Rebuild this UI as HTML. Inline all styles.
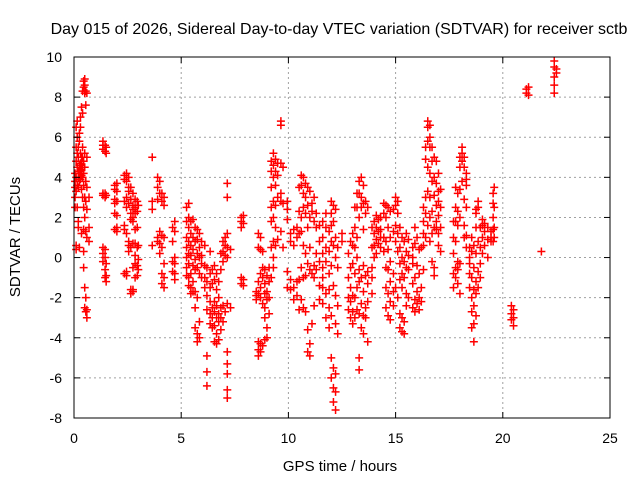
<!DOCTYPE html>
<html><head><meta charset="utf-8"><style>
body{margin:0;background:#fff;}
svg{display:block;font-family:"Liberation Sans",sans-serif;}
</style></head><body>
<svg id="chart" width="640" height="480">
<text x="339" y="34" font-size="16" text-anchor="middle">Day 015 of 2026, Sidereal Day-to-day VTEC variation (SDTVAR) for receiver sctb</text>
<g id="grid"></g>
<g id="marks"></g>
<rect x="74" y="57" width="536" height="361" fill="none" stroke="#000" stroke-width="1"/>
<g id="ticks"></g>
<text x="340" y="471" font-size="15" text-anchor="middle">GPS time / hours</text>
<text transform="translate(20,237) rotate(-90)" font-size="15" text-anchor="middle">SDTVAR / TECUs</text>
</svg>
<script>
const xTicks=[0,5,10,15,20,25];
const yTicks=[-8,-6,-4,-2,0,2,4,6,8,10];
const hours=[0.05,0.1,0.15,0.2,0.25,0.3,0.35,0.4,0.45,0.5,0.55,0.6,0.7,1.35,1.45,1.5,1.9,2.0,2.35,2.45,2.55,2.65,2.75,2.85,2.95,3.0,3.65,3.9,4.0,4.1,4.2,4.6,4.7,5.25,5.35,5.45,5.55,5.65,5.75,5.85,5.95,6.1,6.2,6.35,6.45,6.55,6.65,6.75,6.85,6.95,7.05,7.15,7.3,7.8,7.9,8.5,8.6,8.7,8.8,8.9,9.0,9.1,9.2,9.3,9.4,9.5,9.65,9.75,9.95,10.1,10.25,10.4,10.5,10.6,10.7,10.8,10.9,11.0,11.1,11.2,11.3,11.45,11.6,11.75,11.9,12.0,12.1,12.2,12.3,12.5,12.8,12.9,13.0,13.1,13.2,13.3,13.4,13.5,13.6,13.7,13.9,14.0,14.1,14.2,14.3,14.45,14.55,14.65,14.75,14.9,15.0,15.1,15.2,15.3,15.4,15.5,15.6,15.8,15.9,16.0,16.1,16.2,16.3,16.4,16.5,16.6,16.7,16.8,16.9,17.0,17.1,17.7,17.8,17.9,18.0,18.1,18.2,18.3,18.45,18.55,18.65,18.75,18.85,18.95,19.05,19.15,19.3,19.45,19.55,19.6,20.4,20.5,21.1,21.2,21.8,22.4,22.5];
const valueGroups=[
[3.5,3.0,2.5,3.8,4.2],[6.5,5.5,4.8,4.0,3.3,0.6,0.4],[6.8,6.0,5.2,4.5,3.6,2.5],[5.5,5.0,4.3,4.0,3.5,1.8,1.5],[6.2,5.8,4.6,4.2,3.8,0.5],[7.0,6.5,5.2,4.7,4.3,3.9],[7.5,5.0,4.6,4.4,4.1,3.4,1.2],[8.3,7.2,5.5,5.0,4.5,4.0,3.0],[8.8,8.5,4.8,4.2,3.6,2.5,1.4,0.3,-0.5],[8.9,8.6,8.2,5.2,4.5,3.0,2.0,-1.5,-2.5],[8.3,7.6,3.8,2.8,1.3,-2.0,-2.7],[8.2,5.0,3.5,2.4,1.0,-2.6,-3.0],[3.0,1.5,0.8],
[5.8,5.6,5.4,3.2,3.1,0.5,0.2,-0.2],[5.6,5.3,3.2,3.0,0.4,0.0,-0.6,-1.0],[5.5,5.2,3.1,-0.3,-0.9,-1.2],[3.6,3.4,2.9,2.7,2.2,1.4],[3.7,3.3,2.8,2.1,1.5,1.3],[4.1,3.9,2.8,1.6,1.4,-0.8],[4.2,3.8,3.0,2.5,1.2,-0.9,-0.7],[4.0,3.5,3.3,2.7,0.8,0.6,0.3],[3.5,2.9,2.2,1.9,0.5,-1.6,-1.8],[3.2,2.6,2.4,2.0,1.8,0.7,-0.5,-1.7,-1.6],[2.9,2.5,2.2,1.4,0.7,0.1,-0.3,-1.0],[2.8,2.3,1.5,0.5,-0.4,-0.9],[2.6,0.6,-0.1,-0.6],
[5.0,2.8,2.4,0.6],[4.0,3.5,2.9,1.0,0.8],[3.8,3.2,1.3,0.7,0.2],[3.2,2.8,1.1,0.5,-0.8,-1.3],[3.0,2.6,1.0,-0.3,-1.0,-1.5],[1.5,0.8,-0.2,-0.7],[1.8,1.3,0.0,-0.3,-0.8,-1.1],
[2.5,1.8,1.0,0.5,0.0,-0.5,-0.9],[2.7,2.0,1.5,0.8,0.2,-0.3,-1.0,-1.4],[1.8,1.2,0.6,0.1,-0.8,-1.5,-1.8],[1.9,1.0,0.4,-0.4,-1.2,-1.7],[1.5,0.8,-0.1,-0.6,-1.7,-2.5,-3.5],[1.4,0.9,0.2,-0.5,-2.0,-3.8,-4.2],[1.2,0.5,0.0,-0.8,-3.2,-4.0],[0.8,0.1,-0.3,-1.0],[0.6,-0.4,-1.0,-1.5],[-0.5,-1.2,-1.9,-2.6,-4.9,-5.7,-6.4],[0.3,-0.8,-1.5,-2.2,-2.8,-3.3],[-0.6,-1.3,-2.5,-3.0,-3.5],[-0.4,-1.1,-2.2,-2.7,-3.4,-4.2],[-0.8,-1.6,-2.4,-3.0,-3.8,-4.3],[-1.2,-2.0,-2.8,-3.2,-4.1],[0.2,-0.6,-2.5,-3.0,-3.6],[0.8,0.3,-0.2,-2.4,-3.2],[1.0,0.6,0.1,-2.7],[3.7,3.0,1.2,0.5,0.0,-2.3,-4.7,-5.3,-5.8,-6.6,-7.0],[0.4,-2.5],[2.0,1.8,1.5,-1.0,-1.3],[2.1,1.7,-1.1,-1.4],
[-1.7,-1.9,-2.1],[1.2,0.5,-1.2,-1.8,-4.2,-4.6,-4.9],[1.0,0.4,-0.8,-1.5,-2.0,-4.3,-4.7],[0.3,-0.5,-1.0,-2.3,-4.4],[-0.6,-1.3,-1.8,-2.5,-3.0,-4.1],[-0.9,-1.7,-2.1,-3.5,-4.0],[-0.5,-1.2,-2.0,-2.8],[4.8,4.3,3.5,2.5,1.8,0.5,-1.0],[5.2,4.6,4.0,2.8,2.0,0.8,0.0,-0.5],[4.9,4.3,3.6,2.6,1.5,0.6],[4.7,4.1,3.0,0.9],[6.8,6.6,4.7,3.2,2.8,1.3],[4.5,2.7,0.5],[2.8,2.4,1.9,-0.7,-1.5],[1.2,0.8,-1.1,-1.6],[1.4,0.6,-1.5,-2.1],[1.5,1.0,-1.2,-1.9],[3.5,2.3,1.2,-1.1,-2.6],[4.1,3.6,2.0,1.3,-0.5,-2.1],[4.0,3.2,2.5,0.6,-1.0,-2.5],[3.7,3.0,2.2,0.2,-0.9,-2.7],[3.5,2.6,1.5,-0.3,-3.6,-4.7],[3.3,2.0,0.5,-0.6,-4.3,-4.9],[2.7,2.3,-0.8,-3.3],[3.0,1.8,-0.4,-1.0,-2.4],[2.2,1.5,0.2,-0.6],[1.6,0.8,-0.2,-1.4,-2.1],
[1.8,1.0,0.2,-0.5,-1.0,-1.5,-2.3],[2.2,1.5,0.5,-0.2,-1.8,-3.0],[1.3,0.3,-0.8,-1.6,-2.5,-3.5],[2.8,2.2,1.6,0.8,-0.4,-2.9,-5.0,-6.0],[2.6,1.8,0.6,-1.4,-5.5,-6.5,-7.2],[2.4,1.0,0.0,-1.9,-3.3,-5.8,-6.7,-7.6],[0.5,-0.5,-2.4,-3.8],[1.2,0.8],[0.2,-1.0,-2.0,-2.6],[0.8,-0.5,-1.5,-2.2,-3.0],[1.2,0.6,-0.3,-1.9,-2.7,-3.3],[2.5,1.5,0.5,-0.8,-2.0,-3.0],[3.2,2.5,1.0,0.0,-1.5,-2.6],[3.8,3.2,2.0,-0.6,-1.2,-2.8,-5.0,-5.6],[4.0,3.0,2.5,-1.0,-2.3,-3.5],[3.6,2.7,1.4,-0.4,-1.7,-2.9,-3.8],[2.8,2.2,-0.9,-2.5,-3.0],[2.5,-0.7,-1.3,-2.2,-4.2],[1.5,0.5,-0.5,-1.0,-1.8],[1.8,1.2,0.6,0.0],[2.1,1.5,0.9,0.2],[1.9,1.3,0.7],[2.0,1.4,1.0,0.5],[2.7,2.2,1.0,0.3],[2.6,2.0,0.8,-0.5,-1.5,-2.5],[2.5,1.5,0.4,-0.6,-1.8,-2.9],[2.3,1.0,-0.2,-1.2,-2.2,-3.1],[2.4,1.3,-0.8,-1.7,-2.4],[3.0,2.6,1.6,0.8,-1.5],[2.8,2.2,1.2,0.3,-2.0],[1.5,0.5,-0.3,-1.1,-2.8,-3.5],[1.0,0.0,-0.8,-1.5,-3.0,-3.7],[0.8,-0.2,-1.0,-3.2,-3.8],[1.2,0.3,-0.5,-1.8,-2.4],[0.9,0.1,-0.6,-2.0],[0.5,0.0,-0.3,-1.3,-2.5],[1.5,0.7,-1.0,-2.1,-2.7],[1.0,-0.4,-1.7,-2.3],[0.4,-0.8,-2.0,-2.6],[0.5,-1.5,-2.2],
[2.5,1.8,1.2,0.6,-0.6],[5.5,4.9,3.0,2.2,1.0],[6.8,6.5,5.8,4.5,3.3,1.6],[6.6,6.0,5.5,4.2,3.0,2.0,0.8],[5.5,4.8,3.8,2.3,1.2,-0.2],[5.0,4.0,3.1,1.5,-0.5,-0.9],[4.8,3.7,2.6,1.8,1.4],[4.2,3.3,2.8,2.1,1.2,0.6],[3.4,2.5,1.5,0.3],[1.8,1.0,0.2,-0.8,-1.5],[3.5,2.5,1.8,0.8,-0.5,-1.0],[3.2,2.3,1.6,-0.2,-0.6,-1.3],[5.0,4.5,3.4,2.0,-0.3,-1.8],[5.5,5.2,4.8,3.8],[5.0,4.5,2.9,1.6,1.0],[4.2,3.9,3.6,2.5,1.1,0.5],[0.5,0.0,-0.3,-0.8,-1.5],[1.0,0.3,-1.0,-2.0,-2.7,-3.5],[0.6,-0.5,-1.6,-2.4,-3.3,-4.2],[2.4,2.2,1.5,0.2,-1.2,-1.8,-2.9],[2.8,2.5,0.8,-0.7,-1.5],[1.5,0.5,-0.3,-1.0],[1.9,1.6,1.0,0.2],[1.7,1.3,0.6],[1.5,0.9,0.0],[1.3,1.0,0.8],[3.2,2.7,2.0,1.4,0.8],[3.5,2.5,1.5,1.0],
[-2.4,-2.8,-3.1],[-2.6,-3.0,-3.4],[8.4,8.2],[8.5,8.1],[0.3],[9.8,9.5,9.0,8.6,8.2],[9.4,9.2]];
const X0=74,X1=610,Y0=418,Y1=57;
function sx(h){return X0+(h-0)/(25-0)*(X1-X0);}
function sy(v){return Y0-(v-(-8))/(10-(-8))*(Y0-Y1);}
const NS='http://www.w3.org/2000/svg';
const grid=document.getElementById('grid'),ticks=document.getElementById('ticks'),marks=document.getElementById('marks');
function mk(tag,attrs,parent){const e=document.createElementNS(NS,tag);for(const k in attrs)e.setAttribute(k,attrs[k]);parent.appendChild(e);return e;}
xTicks.forEach(t=>{const x=sx(t);
 if(t>0&&t<25){const g=mk('line',{x1:x,x2:x,y1:Y1,y2:Y0,stroke:'#a0a0a0','stroke-dasharray':'2,3'},grid);
 
 }
 mk('line',{x1:x,x2:x,y1:Y0,y2:Y0-6,stroke:'#000'},ticks);mk('line',{x1:x,x2:x,y1:Y1,y2:Y1+6,stroke:'#000'},ticks);
 const l=mk('text',{x:x,y:443,'font-size':14,'text-anchor':'middle'},ticks);l.textContent=t;
 
 });
yTicks.forEach(t=>{const y=sy(t);
 if(t>-8&&t<10){const g=mk('line',{x1:X0,x2:X1,y1:y,y2:y,stroke:'#a0a0a0','stroke-dasharray':'2,3'},grid);
 
 }
 mk('line',{x1:X0,x2:X0+6,y1:y,y2:y,stroke:'#000'},ticks);mk('line',{x1:X1,x2:X1-6,y1:y,y2:y,stroke:'#000'},ticks);
 const l=mk('text',{x:62,y:y+5,'font-size':14,'text-anchor':'end'},ticks);l.textContent=t;
 
 });
hours.forEach((h,i)=>{(valueGroups[i]||[]).forEach(v=>{const x=sx(h),y=sy(v);
 const p=mk('path',{d:`M${x-4},${y}H${x+4}M${x},${y-4}V${y+4}`,stroke:'#ff0000','stroke-width':1.5,fill:'none'},marks);
 
 });});
</script>
</body></html>
